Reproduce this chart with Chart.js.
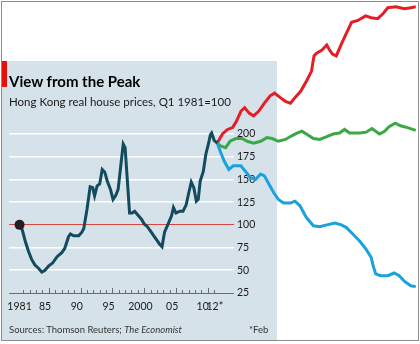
<!DOCTYPE html>
<html>
<head>
<meta charset="utf-8">
<script src="https://cdn.jsdelivr.net/npm/chart.js@4.4.1/dist/chart.umd.min.js"></script>
<style>
  html, body { margin: 0; padding: 0; background: #fff; }
  #wrap { position: relative; width: 420px; height: 344px; overflow: hidden; font-family: Lato, "Noto Sans", sans-serif; color: #1a1a1a; }
  #frame { position: absolute; left: 1px; top: 1px; width: 418px; height: 340px; box-sizing: border-box; border: 1px solid #8c8c8c; }
  #panel { position: absolute; left: 2px; top: 61px; width: 275px; height: 279px; background: #d6e2e9; }
  #flag { position: absolute; left: 2px; top: 61px; width: 5px; height: 26px; background: #e3120b; }
  canvas { position: absolute; left: 0; top: 0; }
  .txt { position: absolute; white-space: nowrap; }
  #title { left: 9px; top: 74px; font-size: 15px; line-height: 15px; font-weight: bold; color: #000; }
  #sub { left: 9px; top: 96px; font-size: 11.5px; line-height: 12px; }
  #src { left: 9px; top: 325px; font-size: 9.5px; line-height: 10px; color: #333; }
  #note { left: 249px; top: 325px; font-size: 9.5px; line-height: 10px; color: #333; }
</style>
</head>
<body>
<div id="wrap">
  <div id="frame"></div>
  <div id="panel"></div>
  <div id="flag"></div>
  <canvas id="chart" width="420" height="344"></canvas>
  <div class="txt" id="title">View from the Peak</div>
  <div class="txt" id="sub">Hong Kong real house prices, Q1 1981=100</div>
  <div class="txt" id="src">Sources: Thomson Reuters; <i>The Economist</i></div>
  <div class="txt" id="note">*Feb</div>
</div>
<script>
/* ---------- data ---------- */
const HK_YEARS = [1981.0, 1981.4, 1981.9, 1982.4, 1982.9, 1983.4, 1984.0, 1984.5, 1985.0, 1985.6,
  1986.2, 1986.9, 1987.6, 1988.1, 1988.7, 1989.0, 1989.5, 1990.3, 1990.8, 1991.1,
  1991.6, 1992.1, 1992.5, 1992.8, 1993.2, 1993.6, 1994.0, 1994.4, 1994.8, 1995.3,
  1995.7, 1996.1, 1996.5, 1996.9, 1997.3, 1997.6, 1997.9, 1998.3, 1998.7, 1999.1,
  1999.7, 2000.2, 2000.6, 2001.1, 2001.6, 2002.0, 2002.5, 2003.0, 2003.4, 2003.8,
  2004.3, 2004.9, 2005.2, 2005.6, 2006.2, 2006.7, 2007.2, 2007.6, 2008.0, 2008.4,
  2008.8, 2009.1, 2009.4, 2009.9, 2010.3, 2010.7, 2011.0, 2011.2, 2011.6, 2012.1];
const HK_INDEX = [100, 95, 82, 71, 62, 56, 52, 48, 50, 55,
  58, 65, 69, 74, 87, 90, 88, 88, 92, 96,
  117, 142, 141, 132, 143, 145, 161, 158, 148, 139,
  128, 132, 139, 164, 189, 185, 154, 113, 113, 115,
  110, 106, 101, 98, 93, 89, 84, 79, 76, 92,
  100, 110, 119, 113, 115, 115, 122, 135, 147, 141,
  126, 128, 148, 159, 178, 189, 199, 201, 193, 190];

const UP_YEARS = [2012.1, 2012.9, 2013.7, 2014.5, 2015.1, 2015.8, 2016.4, 2017.1, 2017.8, 2018.6,
  2019.5, 2020.4, 2021.1, 2022.0, 2022.8, 2023.6, 2024.3, 2025.2, 2026.1, 2026.9,
  2027.3, 2027.7, 2028.5, 2029.3, 2029.7, 2030.2, 2030.8, 2031.6, 2032.4, 2033.2,
  2034.2, 2035.4, 2036.3, 2037.3, 2038.1, 2038.9, 2040.2, 2041.5, 2042.5, 2043.3];
const UP_INDEX = [190, 200, 205, 207, 214, 225, 229, 223, 220, 225,
  234, 242, 245, 240, 236, 234, 240, 247, 258, 269,
  286, 289, 292, 298, 293, 288, 286, 299, 311, 323,
  325, 330, 328, 327, 332, 339, 340, 338, 339, 340];

const FLAT_YEARS = [2012.1, 2012.6, 2013.4, 2014.1, 2015.0, 2016.0, 2016.8, 2017.8, 2018.9, 2019.9,
  2020.7, 2021.7, 2022.8, 2023.8, 2024.6, 2025.4, 2026.1, 2027.2, 2028.2, 2029.3,
  2030.3, 2031.3, 2032.1, 2032.9, 2034.5, 2035.5, 2036.4, 2037.0, 2037.6, 2038.4,
  2039.1, 2040.1, 2040.9, 2042.0, 2043.3];
const FLAT_INDEX = [190, 187, 185, 192, 195, 195, 192, 190, 192, 196,
  195, 192, 194, 198, 201, 203, 200, 195, 194, 197,
  200, 201, 205, 201, 201, 202, 206, 203, 200, 203,
  208, 212, 209, 207, 204];

const DOWN_YEARS = [2012.1, 2012.6, 2013.2, 2013.9, 2014.6, 2015.8, 2016.5, 2017.3, 2018.1, 2018.9,
  2019.5, 2020.2, 2021.0, 2021.7, 2022.5, 2023.6, 2024.3, 2025.1, 2026.1, 2027.2,
  2028.2, 2029.3, 2030.6, 2031.6, 2032.4, 2033.4, 2034.5, 2035.5, 2036.3, 2036.6,
  2037.0, 2037.8, 2038.9, 2039.9, 2040.7, 2041.5, 2042.5, 2043.3];
const DOWN_INDEX = [190, 180, 170, 161, 165, 165, 159, 152, 150, 156,
  154, 145, 135, 128, 124, 124, 126, 121, 108, 99,
  98, 100, 102, 100, 97, 90, 82, 73, 64, 55,
  46, 44, 44, 47, 44, 38, 33, 32];

const Y_TICKS = [25, 50, 75, 100, 125, 150, 175, 200];
// label positions along the year axis (the last two are nudged apart as in the original)
const X_TICKS = [1981, 1985, 1990, 1995, 2000, 2005, 2009.8, 2011.7];
const X_LABELS = ["1981", "85", "90", "95", "2000", "05", "10", "12*"];
const MAJOR_YEARS = [1985, 1990, 1995, 2000, 2005, 2010];
const TICK_YEARS = [1981, 1982, 1983, 1984, 1985, 1986, 1987, 1988, 1989, 1990,
  1991, 1992, 1993, 1994, 1995, 1996, 1997, 1998, 1999, 2000,
  2001, 2002, 2003, 2004, 2005, 2006, 2007, 2008, 2009, 2010, 2011];

/* ---------- look ---------- */
const X_MIN = 1979.36, X_MAX = 2014.72;
const TICK_SHIFT = -0.4;
const FONT = { family: "Lato, 'Noto Sans', sans-serif", size: 10.5 };

const pts = (xs, ys) => xs.map((x, i) => ({ x, y: ys[i] }));

// small year ticks standing on the baseline
const yearTicks = {
  id: "yearTicks",
  beforeDatasetsDraw(chart) {
    const { ctx, scales: { x, y } } = chart;
    const base = Math.round(y.getPixelForValue(25));
    ctx.save();
    ctx.strokeStyle = "#6d6d6d";
    ctx.lineWidth = 1;
    TICK_YEARS.forEach(yr => {
      const px = Math.round(x.getPixelForValue(yr + 1 + TICK_SHIFT)) + 0.5;
      const len = MAJOR_YEARS.includes(yr) ? 5 : 3;
      ctx.beginPath();
      ctx.moveTo(px, base);
      ctx.lineTo(px, base - len);
      ctx.stroke();
    });
    ctx.restore();
  }
};

new Chart(document.getElementById("chart"), {
  type: "line",
  data: {
    datasets: [
      {
        data: pts(HK_YEARS, HK_INDEX),
        borderColor: "#124a5e",
        borderWidth: 3,
        pointRadius: ctx => ctx.dataIndex === 0 ? 5 : 0,
        pointBackgroundColor: "#231f20",
        pointBorderWidth: 0,
        clip: false
      },
      { data: pts(DOWN_YEARS, DOWN_INDEX), borderColor: "#1ba1dc", borderWidth: 3, pointRadius: 0, clip: false },
      { data: pts(FLAT_YEARS, FLAT_INDEX), borderColor: "#3aa845", borderWidth: 3, pointRadius: 0, clip: false },
      { data: pts(UP_YEARS, UP_INDEX), borderColor: "#e31e26", borderWidth: 3, pointRadius: 0, clip: false }
    ]
  },
  options: {
    responsive: false,
    animation: false,
    events: [],
    layout: { padding: { left: 8, right: 146, top: 134, bottom: 31 } },
    plugins: { legend: { display: false }, tooltip: { enabled: false } },
    scales: {
      x: {
        type: "linear",
        bounds: "data",
        afterDataLimits: s => { s.min = X_MIN; s.max = X_MAX; },
        afterBuildTicks: s => { s.ticks = X_TICKS.map(v => ({ value: v })); },
        afterFit: s => { s.height = 20; },
        grid: { display: false, drawTicks: false },
        border: { display: false },
        ticks: {
          autoSkip: false, maxRotation: 0, padding: 7,
          font: FONT, color: "#1a1a1a",
          callback: (v, i) => X_LABELS[i]
        }
      },
      y: {
        position: "right",
        min: 25,
        max: 200,
        afterBuildTicks: s => { s.ticks = Y_TICKS.map(v => ({ value: v })); },
        afterFit: s => { s.width = 40; },
        grid: {
          drawTicks: false,
          color: ctx => ctx.tick.value === 100 ? "#d9463f" : ctx.tick.value === 25 ? "#6d6d6d" : "#ffffff",
          lineWidth: ctx => ctx.tick.value === 100 || ctx.tick.value === 25 ? 1 : 1.6
        },
        border: { display: false },
        ticks: { padding: 3, font: FONT, color: "#1a1a1a" }
      }
    }
  },
  plugins: [yearTicks]
});
</script>
</body>
</html>
